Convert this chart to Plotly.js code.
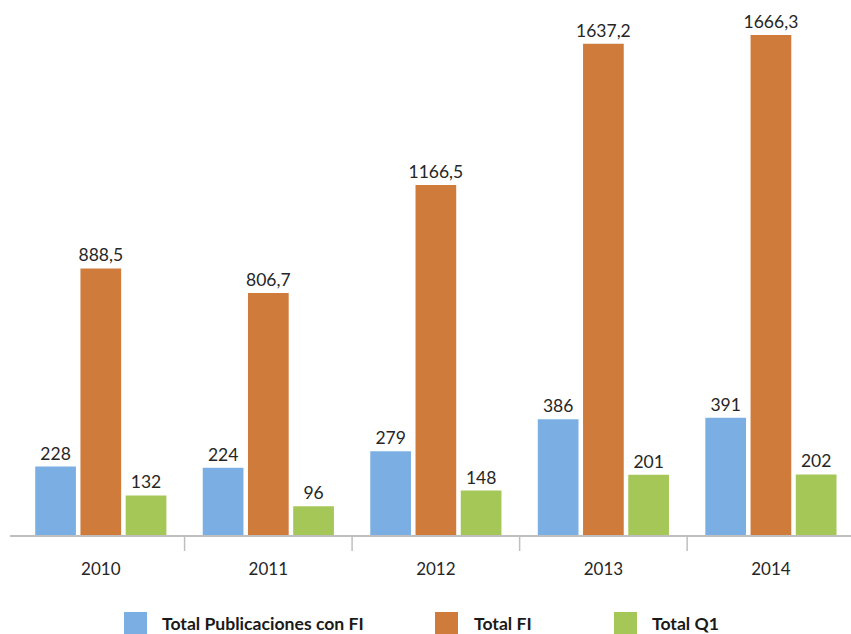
<!DOCTYPE html>
<html>
<head>
<meta charset="utf-8">
<script src="https://cdn.plot.ly/plotly-3.0.1.min.js"></script>
<style>html,body{margin:0;padding:0;background:#fff;}#chart{width:851px;height:634px;}</style>
</head>
<body>
<div id="chart"></div>
<script>
const years = ['2010', '2011', '2012', '2013', '2014'];
const seriesNames = ['Total Publicaciones con FI', 'Total FI', 'Total Q1'];
const totalPublicaciones = [228, 224, 279, 386, 391];
const totalFI = [888.5, 806.7, 1166.5, 1637.2, 1666.3];
const totalQ1 = [132, 96, 148, 201, 202];
const seriesColors = ['#7BAFE3', '#CF7B3B', '#A5C758'];

const fmt = v => String(v).replace('.', ',');
const allSeries = [totalPublicaciones, totalFI, totalQ1];

const traces = allSeries.map((vals, i) => ({
  type: 'bar',
  name: seriesNames[i],
  x: years,
  y: vals,
  text: vals.map(fmt),
  textposition: 'outside',
  constraintext: 'none',
  cliponaxis: false,
  textfont: {family: 'Lato, sans-serif', size: 17.5, color: '#262626'},
  marker: {color: seriesColors[i]},
  hoverinfo: 'skip'
}));

const px = p => (p - 10) / 841;
const py = p => (535 - p) / 525;

const shapes = [];
[0.5, 1.5, 2.5, 3.5].forEach(b => shapes.push({
  type: 'line', xref: 'x', yref: 'paper', x0: b, x1: b, y0: 0, y1: py(551),
  line: {color: '#bfbfbf', width: 1.5}
}));
const legSq = [124, 435, 614];
const legTx = [160, 472, 650];
const annotations = [];
legSq.forEach((x, i) => {
  shapes.push({type: 'rect', xref: 'paper', yref: 'paper',
    x0: px(x), x1: px(x + 23), y0: py(612), y1: py(645),
    fillcolor: seriesColors[i], line: {width: 0}});
  annotations.push({xref: 'paper', yref: 'paper', x: px(legTx[i]), y: py(623),
    xanchor: 'left', yanchor: 'middle', showarrow: false, text: '<b>' + seriesNames[i] + '</b>',
    font: {family: 'Lato, sans-serif', size: 17.6, color: '#1a1a1a'}});
});

const layout = {
  width: 851, height: 634,
  margin: {l: 10, r: 0, t: 10, b: 99},
  paper_bgcolor: '#ffffff', plot_bgcolor: '#ffffff',
  showlegend: false,
  barmode: 'group',
  bargap: 0.19,
  bargroupgap: 0.1,
  font: {family: 'Lato, sans-serif', color: '#262626'},
  xaxis: {
    type: 'category', range: [-0.542, 4.478],
    showline: true, linecolor: '#bfbfbf', linewidth: 1.5,
    ticks: 'outside', ticklen: 18, tickcolor: 'rgba(0,0,0,0)',
    tickfont: {family: 'Lato, sans-serif', size: 17, color: '#262626'},
    showgrid: false, zeroline: false, fixedrange: true
  },
  yaxis: {range: [0, 1750], visible: false, showgrid: false, zeroline: false, fixedrange: true},
  shapes: shapes,
  annotations: annotations
};

Plotly.newPlot('chart', traces, layout, {displayModeBar: false, staticPlot: true});
</script>
</body>
</html>
